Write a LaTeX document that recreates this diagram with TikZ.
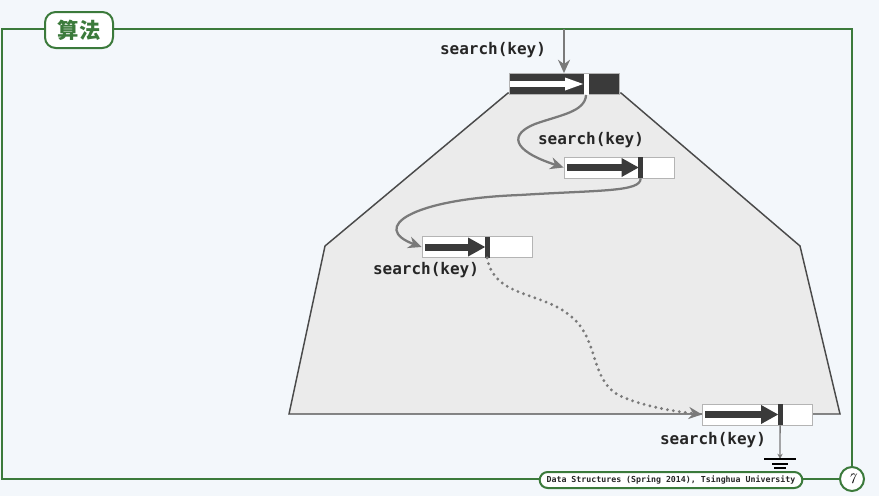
\documentclass[tikz,border=0pt]{standalone}
\usepackage{fontspec}
\usepackage{xcolor}
\usepackage{tikz}
\usetikzlibrary{calc,arrows.meta}
\newfontfamily\cjk{Noto Sans CJK SC}
\newfontfamily\codefont{DejaVu Sans Mono}
\definecolor{bg}{HTML}{F3F7FB}
\definecolor{slidegreen}{HTML}{3B7A3B}
\definecolor{ink}{HTML}{3A3A3A}
\definecolor{cellline}{HTML}{B4B4B4}
\definecolor{linkgray}{HTML}{7A7A7A}
\definecolor{trapfill}{HTML}{EBEBEB}
\definecolor{trapline}{HTML}{4A4A4A}
\definecolor{labtext}{HTML}{262626}
\tikzset{
  greenline/.style={draw=slidegreen, line width=1.5pt},
  titlebox/.style={greenline, fill=white, rounded corners=8pt, minimum width=51pt, minimum height=27pt, inner sep=0pt, text=slidegreen, font=\cjk\bfseries\fontsize{16}{18}\selectfont},
  footbox/.style={greenline, fill=white, rounded corners=6pt, minimum width=197pt, minimum height=12pt, inner sep=0pt, text=labtext, font=\codefont\bfseries\fontsize{6.2}{7}\selectfont},
  pagedot/.style={greenline, circle, fill=white, minimum size=18pt, inner sep=0pt, font=\itshape\fontsize{11}{12}\selectfont},
  trap/.style={fill=trapfill, draw=trapline, line width=1.1pt},
  cell/.style={draw=cellline, line width=0.6pt, fill=white, minimum width=82.5pt, minimum height=15.75pt, inner sep=0pt},
  link/.style={draw=linkgray, line width=1.7pt, -{Stealth[length=10pt,width=9pt]}},
  trail/.style={link, line width=2.4pt, line cap=round, dash pattern=on 0pt off 4.5pt},
  ground/.style={draw=black, line width=1.8pt},
  lab/.style={text=labtext, inner sep=0pt, font=\codefont\bfseries\fontsize{12}{14}\selectfont}
}

\begin{document}
\begin{tikzpicture}[x=0.75pt, y=-0.75pt]
  \fill[bg] (0,0) rectangle (879,496);
  \useasboundingbox (0,0) rectangle (879,496);

  % slide frame
  \draw[greenline] (2,29) rectangle (852,479);
  \node[titlebox] (title) at (79,30) {算法};
  \node[footbox] (foot) at (671,480) {Data Structures (Spring 2014), Tsinghua University};
  \node[pagedot] (page) at (852,479) {7};

  % the search region
  \filldraw[trap] (508,93) -- (325,246) -- (289,414) -- (840,414) -- (800,246) -- (621,93) -- cycle;

  % current node (inverted)
  \node[cell, fill=ink] (n1) at (564,84) {};
  \coordinate (n1k) at ($(n1.west)+(77.5,0)$);
  \fill[white] ($(n1.west)+(1,-3)$) rectangle ($(n1k)+(-20,3)$);
  \fill[white] ($(n1k)+(-21,-6.5)$) -- ($(n1k)+(-3,0)$) -- ($(n1k)+(-21,6.5)$) -- cycle;
  \fill[white] ($(n1k)+(-2.5,-10.5)$) rectangle ($(n1k)+(2.5,10.5)$);

  % the other nodes
  \foreach \nm/\cx/\cy/\k in {n2/619/167.5/77, n3/477/247/65.5, n4/757.5/414.5/78} {
    \node[cell] (\nm) at (\cx,\cy) {};
    \coordinate (\nm k) at ($(\nm.west)+(\k,0)$);
    \fill[ink] ($(\nm.west)+(3,-3.5)$) rectangle ($(\nm k)+(-17,3.5)$);
    \fill[ink] ($(\nm k)+(-19,-9.5)$) -- ($(\nm k)+(-2,0)$) -- ($(\nm k)+(-19,9.5)$) -- cycle;
    \fill[ink] ($(\nm k)+(-2.5,-10.5)$) rectangle ($(\nm k)+(2.5,10.5)$);
  }

  \node[lab] (l1) at (493,50) {search(key)};
  \node[lab] (l2) at (591,140) {search(key)};
  \node[lab] (l3) at (426,270) {search(key)};
  \node[lab] (l4) at (713,440) {search(key)};

  % search path
  \coordinate (entry) at (564,29);
  \draw[link] (entry) -- (n1.north);
  \draw[link] (n1k |- n1.south) .. controls (585,112) and (560,115) .. (535,124)
    .. controls (510,134) and (510,150) .. (n2.west);
  \draw[link] (n2k |- n2.south) .. controls (641,192) and (600,190) .. (520,195)
    .. controls (410,199) and (370,228) .. (n3.west);
  \draw[trail] (n3k |- n3.south) .. controls (495,300) and (545,290) .. (575,320)
    .. controls (600,345) and (590,385) .. (625,398)
    .. controls (650,408) and (680,412) .. (n4.west);

  % null
  \coordinate (gnd) at (780,459);
  \draw[link, line width=1pt, -{Stealth[length=4pt,width=4pt]}] (n4k |- n4.south) -- (gnd);
  \draw[ground] ($(gnd)+(-16,0)$) -- ($(gnd)+(16,0)$);
  \draw[ground, line width=1pt] ($(gnd)+(-8,5)$) -- ($(gnd)+(8,5)$);
  \draw[ground, line width=1pt] ($(gnd)+(-6,9)$) -- ($(gnd)+(6,9)$);
\end{tikzpicture}
\end{document}
